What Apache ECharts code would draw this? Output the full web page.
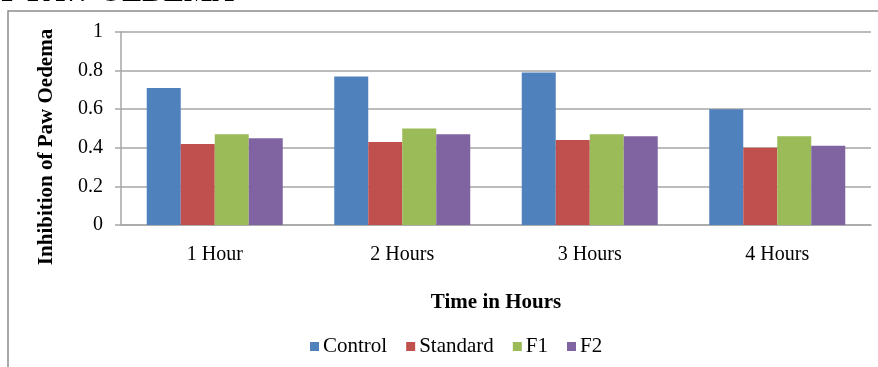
<!DOCTYPE html>
<html>
<head>
<meta charset="utf-8">
<script src="https://cdn.jsdelivr.net/npm/echarts@6/dist/echarts.min.js"></script>
<style>
  html, body { margin: 0; padding: 0; background: #fff; }
  #chart { width: 878px; height: 367px; }
</style>
</head>
<body>
<div id="chart"></div>
<script>
const hours = ['1 Hour', '2 Hours', '3 Hours', '4 Hours'];
const control = [0.71, 0.77, 0.79, 0.6];
const standard = [0.42, 0.43, 0.44, 0.4];
const f1 = [0.47, 0.5, 0.47, 0.46];
const f2 = [0.45, 0.47, 0.46, 0.41];

const serif = '"Liberation Serif", "DejaVu Serif", serif';
const gridColor = '#a6a6a6';

const makeSeries = (name, data, color) => ({
  name,
  type: 'bar',
  data,
  barWidth: 34,
  barGap: '0%',
  itemStyle: { color }
});

const chart = echarts.init(document.getElementById('chart'));
chart.setOption({
  animation: false,
  textStyle: { fontFamily: serif },
  grid: { left: 121, right: 7, top: 32, bottom: 142 },
  legend: {
    left: 305,
    top: 331,
    icon: 'rect',
    itemWidth: 9,
    itemHeight: 9,
    itemGap: 19,
    textStyle: { fontFamily: serif, fontSize: 21, color: '#000', padding: [0, 0, 0, -1] },
    data: ['Control', 'Standard', 'F1', 'F2']
  },
  graphic: [
    {
      type: 'rect',
      shape: { x: 8, y: 11, width: 1000, height: 500 },
      style: { fill: 'none', stroke: '#8c8c8c', lineWidth: 1.5 },
      silent: true
    },
    {
      type: 'text',
      right: 878 - 234,
      top: -22,
      style: {
        text: 'OF PAW OEDEMA',
        font: 'bold 30px ' + serif,
        fill: '#000'
      }
    },
    {
      type: 'text',
      x: 47,
      y: 147,
      rotation: Math.PI / 2,
      style: {
        text: 'Inhibition of Paw Oedema',
        font: 'bold 21px ' + serif,
        fill: '#000',
        align: 'center',
        verticalAlign: 'middle'
      }
    }
  ],
  xAxis: {
    type: 'category',
    data: hours,
    name: 'Time in Hours',
    nameLocation: 'middle',
    nameGap: 67,
    nameTextStyle: { fontFamily: serif, fontSize: 21, fontWeight: 'bold', color: '#000' },
    axisTick: { show: false },
    axisLine: { lineStyle: { color: gridColor, width: 1.5 } },
    axisLabel: { color: '#000', fontSize: 20, margin: 20 }
  },
  yAxis: {
    type: 'value',
    min: 0,
    max: 1,
    interval: 0.2,
    axisLine: { show: true, lineStyle: { color: gridColor, width: 1.5 } },
    axisTick: { show: true, length: 6, lineStyle: { color: gridColor, width: 1.5 } },
    axisLabel: { color: '#000', fontSize: 20, margin: 18 },
    splitLine: { lineStyle: { color: gridColor, width: 1.5 } }
  },
  series: [
    makeSeries('Control', control, '#4f81bd'),
    makeSeries('Standard', standard, '#c0504d'),
    makeSeries('F1', f1, '#9bbb59'),
    makeSeries('F2', f2, '#8064a2')
  ]
});
</script>
</body>
</html>
